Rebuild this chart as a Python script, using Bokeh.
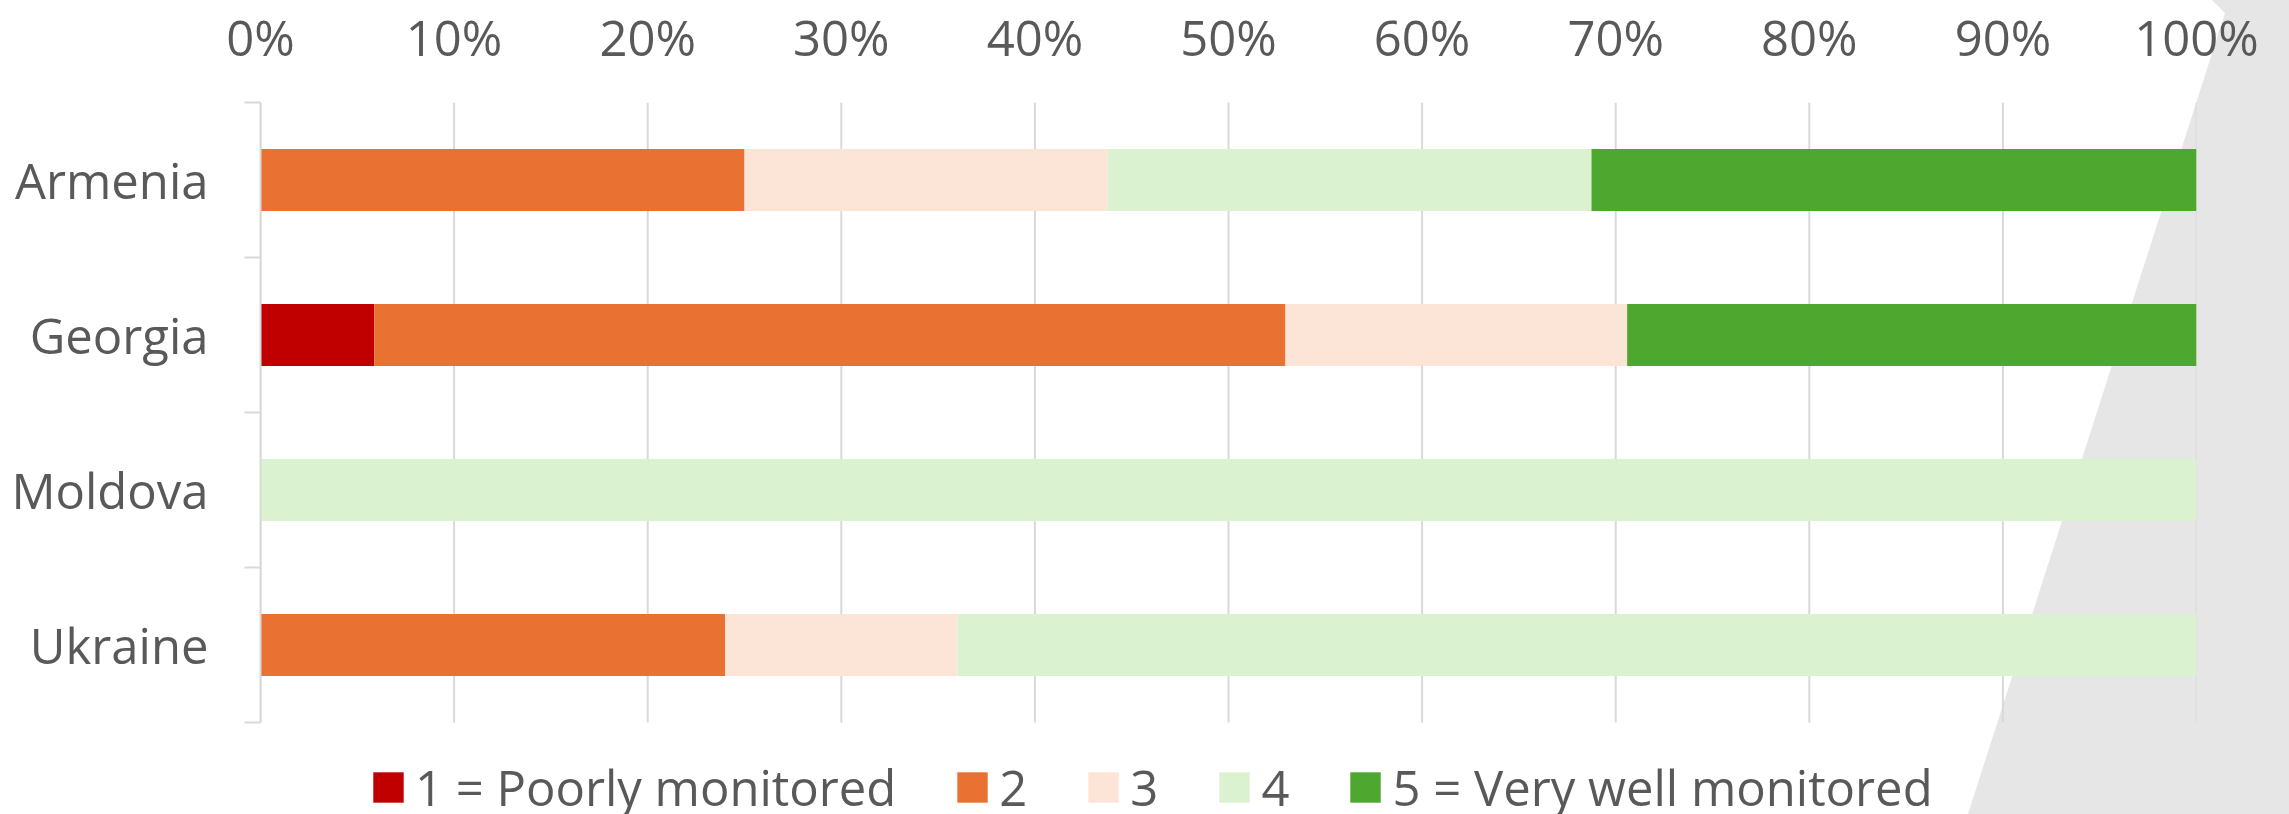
from bokeh.plotting import figure
from bokeh.models import (ColumnDataSource, FixedTicker, PrintfTickFormatter, Legend,
                          LegendItem, GlobalInlineStyleSheet, Range1d)
from bokeh.embed import file_html
from bokeh.resources import INLINE

countries = ["Armenia", "Georgia", "Moldova", "Ukraine"]
levels = ["1 = Poorly monitored", "2", "3", "4", "5 = Very well monitored"]
level_keys = ["l1", "l2", "l3", "l4", "l5"]
colors = ["#C00000", "#E97132", "#FCE4D6", "#DAF2D0", "#4EA72E"]

l1 = [0.0, 5.88, 0.0, 0.0]
l2 = [25.0, 47.06, 0.0, 24.0]
l3 = [18.75, 17.65, 0.0, 12.0]
l4 = [25.0, 0.0, 100.0, 64.0]
l5 = [31.25, 29.41, 0.0, 0.0]

x_ticks = [0, 10, 20, 30, 40, 50, 60, 70, 80, 90, 100]

n = len(countries)
ypos = [n - i - 0.5 for i in range(n)]
bounds = [float(i) for i in range(n + 1)]

source = ColumnDataSource(dict(country=countries, y=ypos, l1=l1, l2=l2, l3=l3, l4=l4, l5=l5))

TEXT = "#595959"
GRID = "#D9D9D9"
FONT = "Open Sans"

page_css = """
html, body { margin: 0; padding: 0; }
body::before {
  content: "";
  position: fixed;
  left: 0; top: 0;
  width: 2289px; height: 814px;
  background: #E6E6E6;
  clip-path: polygon(2212px 0px, 2289px 0px, 2289px 814px, 1968px 814px, 2225px 13px);
  z-index: -1;
}
"""

# layout (pixels)
FRAME_W, FRAME_H, CHART_H = 1936, 712, 620   # chart area = top 620 px of the frame; legend sits below it
y_start = -n * (FRAME_H - CHART_H) / CHART_H

p = figure(frame_width=FRAME_W, frame_height=FRAME_H,
           x_range=Range1d(0, 100), y_range=Range1d(y_start, n),
           x_axis_location="above", output_backend="svg", toolbar_location=None,
           min_border_left=260, min_border_right=93, min_border_top=93, min_border_bottom=0)
p.stylesheets = [GlobalInlineStyleSheet(css=page_css)]
p.background_fill_alpha = 0
p.border_fill_alpha = 0
p.outline_line_color = None
p.xgrid.grid_line_color = None
p.ygrid.grid_line_color = None

# vertical gridlines limited to the category area
p.segment(x0=x_ticks, y0=[0] * len(x_ticks), x1=x_ticks, y1=[n] * len(x_ticks),
          line_color=GRID, line_width=2)

renderers = p.hbar_stack(level_keys, y="y", height=0.4, color=colors, line_color=None, source=source)

# x axis (top)
xa = p.xaxis[0]
xa.ticker = FixedTicker(ticks=x_ticks)
xa.formatter = PrintfTickFormatter(format="%d%%")
xa.axis_line_color = None
xa.major_tick_line_color = None
xa.minor_tick_line_color = None
xa.major_tick_out = 0
xa.major_tick_in = 0
xa.major_label_standoff = 33
xa.major_label_text_font = FONT
xa.major_label_text_font_size = "49px"
xa.major_label_text_color = TEXT

# y axis (left)
ya = p.yaxis[0]
ya.bounds = (0, n)
ya.ticker = FixedTicker(ticks=ypos, minor_ticks=bounds)
ya.major_label_overrides = {y: c for y, c in zip(ypos, countries)}
ya.axis_line_color = GRID
ya.axis_line_width = 2
ya.major_tick_line_color = None
ya.major_tick_out = 0
ya.major_tick_in = 0
ya.minor_tick_line_color = GRID
ya.minor_tick_line_width = 2
ya.minor_tick_out = 16
ya.minor_tick_in = 0
ya.major_label_standoff = 36
ya.major_label_text_font = FONT
ya.major_label_text_font_size = "49px"
ya.major_label_text_color = TEXT

legend = Legend(items=[LegendItem(label=lab, renderers=[r]) for lab, r in zip(levels, renderers)],
                orientation="horizontal", location=(109, -6),
                glyph_width=38, glyph_height=38, label_standoff=8, spacing=57,
                padding=0, margin=0, border_line_color=None, background_fill_alpha=0,
                label_text_font=FONT, label_text_font_size="49px", label_text_color=TEXT)
p.add_layout(legend, "center")

open("out.html", "w").write(file_html(p, INLINE))
